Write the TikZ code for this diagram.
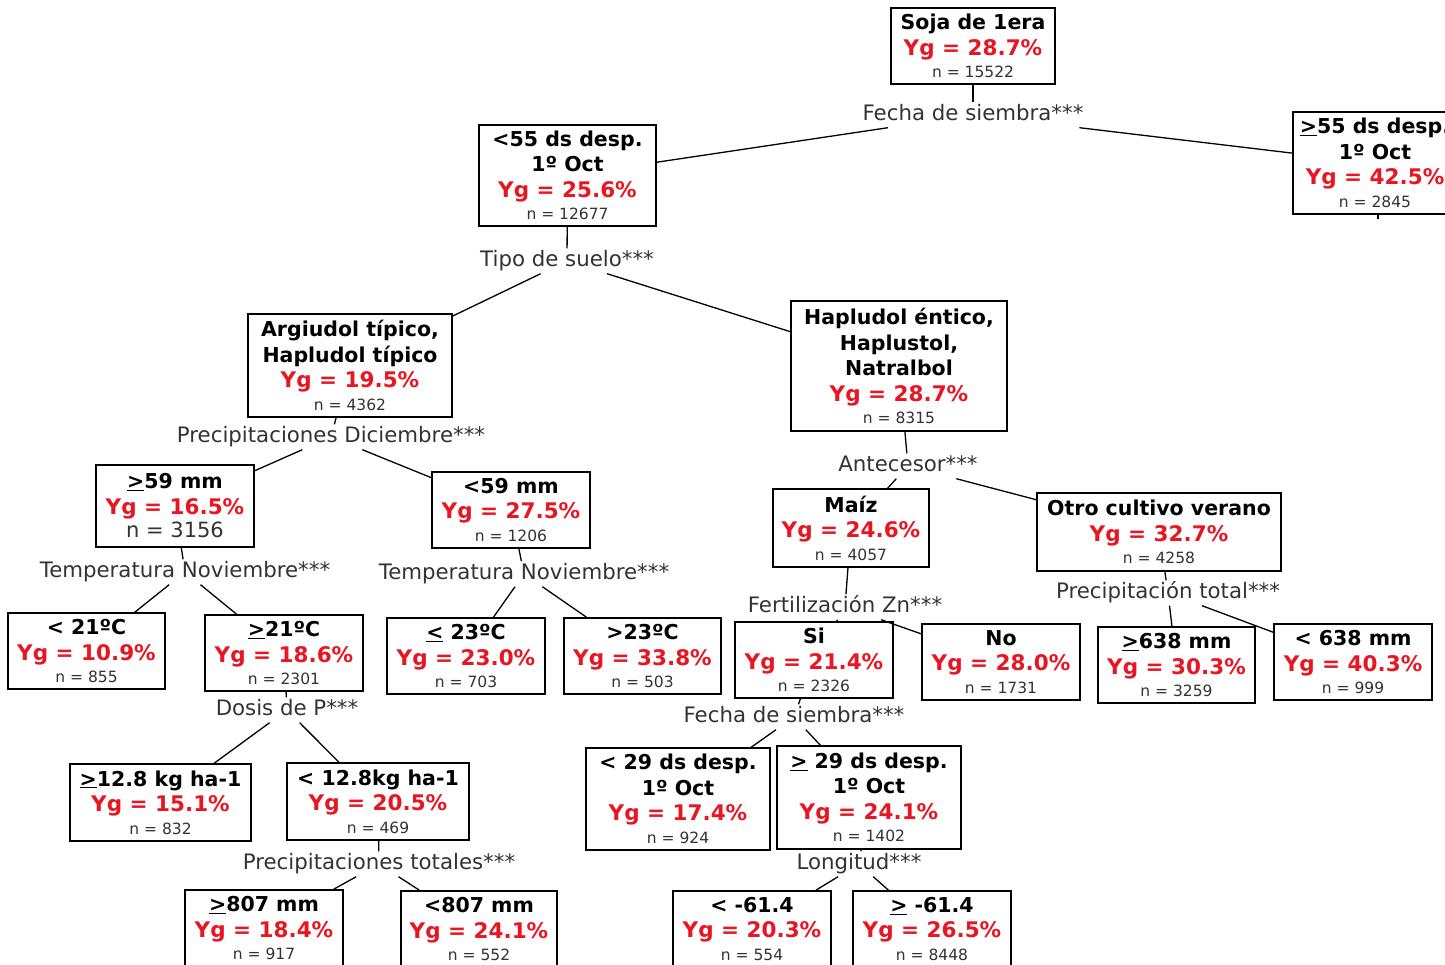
\documentclass[tikz,border=0pt]{standalone}
\usepackage{fontspec}
\setmainfont{DejaVu Sans}
\usepackage{xcolor}
\definecolor{ygred}{RGB}{232,22,34}
\newcommand{\yg}[1]{\textcolor{ygred}{\fontsize{21.5}{25.5}\selectfont Yg = #1\%}}
\newcommand{\nval}[1]{{\mdseries\color{black!80}\fontsize{15.5}{18}\selectfont n = #1}}
\newcommand{\ulgt}{\underline{>}}
\newcommand{\ullt}{\underline{<}}

\begin{document}
\begin{tikzpicture}[x=1pt, y=-1pt,
    box/.style={draw, line width=1.6pt, align=center, inner sep=0pt,
      font=\fontsize{20.5}{25.5}\selectfont\bfseries},
    split/.style={font=\fontsize{21.3}{24}\selectfont, text=black!80,
      inner sep=3pt, text height=15pt, text depth=4pt},
    link/.style={line width=1.3pt}]
    % Page
    \fill[white] (0,0) rectangle (1445,965);
    \useasboundingbox (0,0) rectangle (1445,965);

    % Level 0
    \node[box, minimum width=164pt, minimum height=76pt] (soja) at (973,46)
      {Soja de 1era\\ \yg{28.7}\\[-3pt] \nval{15522}};
    \node[split] (fecha) at (973,115) {Fecha de siembra***};

    % Level 1: sowing date
    \node[box, minimum width=177pt, minimum height=101pt] (early) at (567.5,175.5)
      {<55 ds desp.\\ 1º Oct\\ \yg{25.6}\\[-3pt] \nval{12677}};
    \node[box, minimum width=164pt, minimum height=102pt] (late) at (1375,163)
      {\ulgt55 ds desp.\\ 1º Oct\\ \yg{42.5}\\[-3pt] \nval{2845}};
    \coordinate (latestub) at (1378,219);
    \node[split] (suelo) at (567,261) {Tipo de suelo***};

    % Level 2: soil type
    \node[box, minimum width=204pt, minimum height=103pt] (argi) at (350,365.5)
      {Argiudol típico,\\ Hapludol típico\\ \yg{19.5}\\[-3pt] \nval{4362}};
    \node[box, minimum width=216pt, minimum height=130pt] (haplu) at (899,366)
      {Hapludol éntico,\\ Haplustol,\\ Natralbol\\ \yg{28.7}\\[-3pt] \nval{8315}};
    \node[split] (ppdic) at (331,437) {Precipitaciones Diciembre***};
    \node[split] (antec) at (908,466) {Antecesor***};

    % Level 3: December rain
    \node[box, minimum width=158pt, minimum height=82pt] (wetdic) at (175,506)
      {\ulgt59 mm\\ \yg{16.5}\\[-2pt] {\mdseries\color{black!80}\fontsize{21}{25}\selectfont n = 3156}};
    \node[box, minimum width=158pt, minimum height=76pt] (drydic) at (511,510)
      {<59 mm\\ \yg{27.5}\\[-3pt] \nval{1206}};
    \node[split] (tnovA) at (185,572) {Temperatura Noviembre***};
    \node[split] (tnovB) at (524,574) {Temperatura Noviembre***};

    % Level 3: previous crop
    \node[box, minimum width=156pt, minimum height=78pt] (maiz) at (851,528)
      {Maíz\\ \yg{24.6}\\[-3pt] \nval{4057}};
    \node[box, minimum width=244pt, minimum height=78pt] (otro) at (1159,532)
      {Otro cultivo verano\\ \yg{32.7}\\[-3pt] \nval{4258}};
    \node[split] (fertzn) at (845,607) {Fertilización Zn***};
    \node[split] (pptot) at (1168,593) {Precipitación total***};

    % Level 4
    \node[box, minimum width=157pt, minimum height=76pt] (cold) at (86.5,651)
      {< 21ºC\\ \yg{10.9}\\[-3pt] \nval{855}};
    \node[box, minimum width=158pt, minimum height=76pt] (warm) at (284,653)
      {\ulgt21ºC\\ \yg{18.6}\\[-3pt] \nval{2301}};
    \node[box, minimum width=158pt, minimum height=76pt] (coolB) at (466,656)
      {\ullt{} 23ºC\\ \yg{23.0}\\[-3pt] \nval{703}};
    \node[box, minimum width=157pt, minimum height=76pt] (warmB) at (642.5,656)
      {>23ºC\\ \yg{33.8}\\[-3pt] \nval{503}};
    \node[box, minimum width=158pt, minimum height=76pt] (znsi) at (814,660)
      {Si\\ \yg{21.4}\\[-3pt] \nval{2326}};
    \node[box, minimum width=158pt, minimum height=76pt] (znno) at (1001,662)
      {No\\ \yg{28.0}\\[-3pt] \nval{1731}};
    \node[box, minimum width=157pt, minimum height=76pt] (wettot) at (1176.5,665)
      {\ulgt638 mm\\ \yg{30.3}\\[-3pt] \nval{3259}};
    \node[box, minimum width=158pt, minimum height=76pt] (drytot) at (1353,662)
      {< 638 mm\\ \yg{40.3}\\[-3pt] \nval{999}};
    \node[split] (dosisp) at (287,710) {Dosis de P***};
    \node[split] (fechaB) at (794,717) {Fecha de siembra***};

    % Level 5
    \node[box, minimum width=181pt, minimum height=77pt] (phigh) at (160.5,802.5)
      {\ulgt12.8 kg ha-1\\ \yg{15.1}\\[-3pt] \nval{832}};
    \node[box, minimum width=182pt, minimum height=77pt] (plow) at (378,801.5)
      {< 12.8kg ha-1\\ \yg{20.5}\\[-3pt] \nval{469}};
    \node[box, minimum width=184pt, minimum height=102pt] (sowE) at (678,799)
      {< 29 ds desp.\\ 1º Oct\\ \yg{17.4}\\[-3pt] \nval{924}};
    \node[box, minimum width=184pt, minimum height=103pt] (sowL) at (869,797.5)
      {\ulgt{} 29 ds desp.\\ 1º Oct\\ \yg{24.1}\\[-3pt] \nval{1402}};
    \node[split] (pptotB) at (379,864) {Precipitaciones totales***};
    \node[split] (longit) at (859,864) {Longitud***};

    % Level 6 (cut by the page bottom)
    \node[box, minimum width=158pt, minimum height=76pt] (wet807) at (264,928)
      {\ulgt807 mm\\ \yg{18.4}\\[-3pt] \nval{917}};
    \node[box, minimum width=156pt, minimum height=76pt] (dry807) at (479,929)
      {<807 mm\\ \yg{24.1}\\[-3pt] \nval{552}};
    \node[box, minimum width=158pt, minimum height=76pt] (west) at (752,929)
      {< -61.4\\ \yg{20.3}\\[-3pt] \nval{554}};
    \node[box, minimum width=158pt, minimum height=76pt] (east) at (932,929)
      {\ulgt{} -61.4\\ \yg{26.5}\\[-3pt] \nval{8448}};

    % Connectors
    \draw[link] (soja) -- (fecha);
    \draw[link] (fecha) -- (early);
    \draw[link] (fecha) -- (late);
    \draw[link] (late.south -| latestub) -- (latestub);
    \draw[link] (early) -- (suelo);
    \draw[link] (suelo) -- (argi);
    \draw[link] (suelo) -- (haplu);
    \draw[link] (argi) -- (ppdic);
    \draw[link] (ppdic) -- (wetdic);
    \draw[link] (ppdic) -- (drydic);
    \draw[link] (haplu) -- (antec);
    \draw[link] (antec) -- (maiz);
    \draw[link] (antec) -- (otro);
    \draw[link] (wetdic) -- (tnovA);
    \draw[link] (tnovA) -- (cold);
    \draw[link] (tnovA) -- (warm);
    \draw[link] (drydic) -- (tnovB);
    \draw[link] (tnovB) -- (coolB);
    \draw[link] (tnovB) -- (warmB);
    \draw[link] (maiz) -- (fertzn);
    \draw[link] (fertzn) -- (znsi);
    \draw[link] (fertzn) -- (znno);
    \draw[link] (otro) -- (pptot);
    \draw[link] (pptot) -- (wettot);
    \draw[link] (pptot) -- (drytot);
    \draw[link] (warm) -- (dosisp);
    \draw[link] (dosisp) -- (phigh);
    \draw[link] (dosisp) -- (plow);
    \draw[link] (znsi) -- (fechaB);
    \draw[link] (fechaB) -- (sowE);
    \draw[link] (fechaB) -- (sowL);
    \draw[link] (plow) -- (pptotB);
    \draw[link] (pptotB) -- (wet807);
    \draw[link] (pptotB) -- (dry807);
    \draw[link] (sowL) -- (longit);
    \draw[link] (longit) -- (west);
    \draw[link] (longit) -- (east);
\end{tikzpicture}
\end{document}
